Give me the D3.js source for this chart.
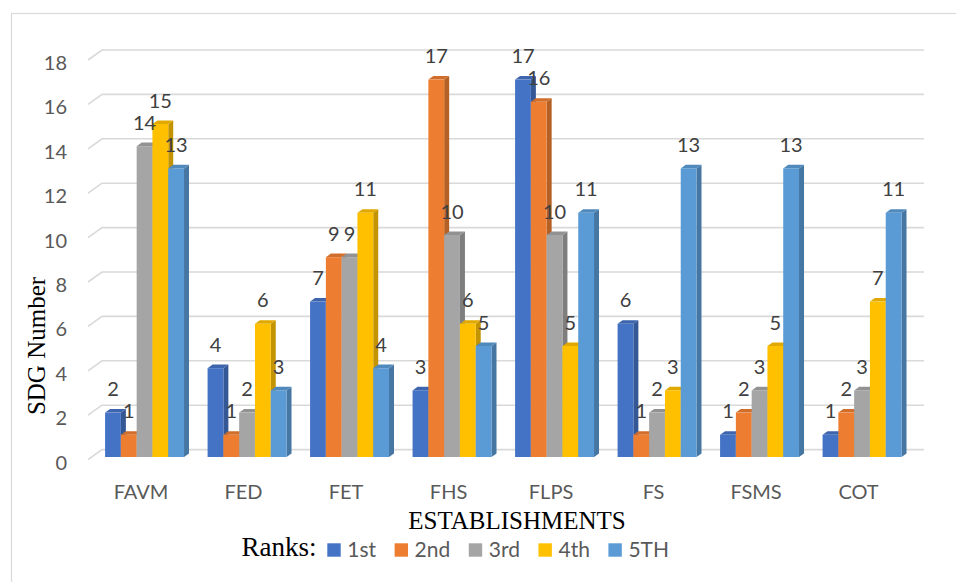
<!DOCTYPE html>
<html>
<head>
<meta charset="utf-8">
<script src="https://cdn.jsdelivr.net/npm/d3@7/dist/d3.min.js"></script>
<style>
  html, body { margin: 0; padding: 0; background: #fff; }
  svg { display: block; }
</style>
</head>
<body>
<svg id="chart" width="956" height="582"></svg>
<script>
// Establishments and the number of SDGs ranked 1st..5th for each
const categories = ["FAVM", "FED", "FET", "FHS", "FLPS", "FS", "FSMS", "COT"];
const seriesNames = ["1st", "2nd", "3rd", "4th", "5TH"];
const rank1st = [2, 4, 7, 3, 17, 6, 1, 1];
const rank2nd = [1, 1, 9, 17, 16, 1, 2, 2];
const rank3rd = [14, 2, 9, 10, 10, 2, 3, 3];
const rank4th = [15, 6, 11, 6, 5, 3, 5, 7];
const rank5th = [13, 3, 4, 5, 11, 13, 13, 11];
const yTicks = [0, 2, 4, 6, 8, 10, 12, 14, 16, 18];
const seriesColors = ["#4472C4", "#ED7D31", "#A5A5A5", "#FFC000", "#5B9BD5"];

const seriesValues = [rank1st, rank2nd, rank3rd, rank4th, rank5th];

const svg = d3.select("#chart");
const sansFont = "Lato, 'Open Sans', sans-serif";
const serifFont = "'Liberation Serif', 'Times New Roman', serif";

// Outer frame
svg.append("rect")
  .attr("x", 11.5).attr("y", 13.5)
  .attr("width", 1000).attr("height", 1000)
  .attr("fill", "none").attr("stroke", "#d9d9d9").attr("stroke-width", 1.2);

// Scales
const y = d3.scaleLinear().domain([0, 18]).range([457, 57.4]);
const x0 = d3.scaleBand().domain(categories).range([93.3, 913.3])
  .paddingInner(0.23).paddingOuter(0.115);
const x1 = d3.scaleBand().domain(seriesNames).range([0, x0.bandwidth()]);

// 3D depth offsets: walls and bars
const wallDx = 14, wallDy = 10;
const barDx = 5, barDy = 3.6;
const wallFrontX = 88;
const wallRight = 924;

// Back-wall gridlines with the slanted side-wall segment
const grid = svg.append("g");
yTicks.forEach(v => {
  const yf = y(v) + 2.6;
  const yb = yf - wallDy;
  grid.append("path")
    .attr("d", `M${wallFrontX},${yf}L${wallFrontX + wallDx},${yb}H${wallRight}`)
    .attr("fill", "none").attr("stroke", "#d9d9d9").attr("stroke-width", 1.6);
});

// Y tick labels
svg.append("g").selectAll("text").data(yTicks).join("text")
  .attr("x", 67).attr("y", d => y(d) + 4.5)
  .attr("text-anchor", "end").attr("dominant-baseline", "central")
  .attr("font-family", sansFont).attr("font-size", 20).attr("fill", "#595959")
  .text(d => d);

// Bars (front, top and right-side faces), drawn left to right
const bars = svg.append("g");
categories.forEach((cat, ci) => {
  seriesNames.forEach((s, si) => {
    const v = seriesValues[si][ci];
    const xl = x0(cat) + x1(s);
    const w = x1.bandwidth();
    const yt = y(v), yb = y(0);
    const base = d3.color(seriesColors[si]);
    const g = bars.append("g");
    // side face
    g.append("path")
      .attr("d", `M${xl + w},${yt}L${xl + w + barDx},${yt - barDy}L${xl + w + barDx},${yb - barDy}L${xl + w},${yb}Z`)
      .attr("fill", base.darker(0.75).formatHex());
    // top face
    g.append("path")
      .attr("d", `M${xl},${yt}L${xl + barDx},${yt - barDy}L${xl + w + barDx},${yt - barDy}L${xl + w},${yt}Z`)
      .attr("fill", base.darker(0.35).formatHex());
    // front face
    g.append("rect")
      .attr("x", xl).attr("y", yt).attr("width", w).attr("height", yb - yt)
      .attr("fill", base.formatHex());
  });
});

// Data labels
const labels = svg.append("g");
categories.forEach((cat, ci) => {
  seriesNames.forEach((s, si) => {
    const v = seriesValues[si][ci];
    labels.append("text")
      .attr("x", x0(cat) + x1(s) + x1.bandwidth() / 2)
      .attr("y", y(v) - 24.5)
      .attr("text-anchor", "middle").attr("dominant-baseline", "central")
      .attr("font-family", sansFont).attr("font-size", 20).attr("fill", "#404040")
      .text(v);
  });
});

// Category labels
svg.append("g").selectAll("text").data(categories).join("text")
  .attr("x", d => x0(d) + x0.bandwidth() / 2 - 3.5)
  .attr("y", 499)
  .attr("text-anchor", "middle")
  .attr("font-family", sansFont).attr("font-size", 20).attr("fill", "#595959")
  .text(d => d);

// Axis titles
svg.append("text")
  .attr("x", 517).attr("y", 528.5)
  .attr("text-anchor", "middle")
  .attr("font-family", serifFont).attr("font-size", 25).attr("fill", "#000")
  .text("ESTABLISHMENTS");

svg.append("text")
  .attr("transform", "translate(45,346) rotate(-90)")
  .attr("text-anchor", "middle")
  .attr("font-family", serifFont).attr("font-size", 25).attr("fill", "#000")
  .text("SDG Number");

// Legend
const legend = svg.append("g");
legend.append("text")
  .attr("x", 241.5).attr("y", 555.5)
  .attr("font-family", serifFont).attr("font-size", 27).attr("fill", "#000")
  .text("Ranks:");
let lx = 327.3;
seriesNames.forEach((s, si) => {
  legend.append("rect")
    .attr("x", lx).attr("y", 543.3).attr("width", 13.4).attr("height", 13.4)
    .attr("fill", seriesColors[si]);
  const t = legend.append("text")
    .attr("x", lx + 20).attr("y", 556.7)
    .attr("font-family", sansFont).attr("font-size", 21).attr("fill", "#595959")
    .text(s);
  lx += 20 + t.node().getComputedTextLength() + 18.5;
});
</script>
</body>
</html>
